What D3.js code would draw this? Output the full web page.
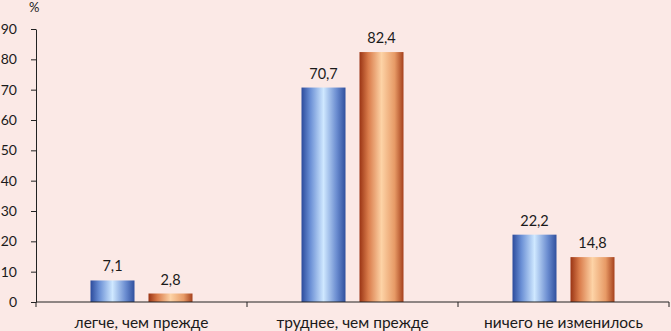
<!DOCTYPE html>
<html>
<head>
<meta charset="utf-8">
<script src="https://cdn.jsdelivr.net/npm/d3@7"></script>
<style>
  body { margin: 0; background: #fbe9e6; }
  svg { display: block; }
  text { font-family: Lato, "Open Sans", sans-serif; fill: #1a1a1a; }
</style>
</head>
<body>
<div id="chart"></div>
<script>
// chart data
var categories = ["легче, чем прежде", "труднее, чем прежде", "ничего не изменилось"];
var seriesNames = ["s1", "s2"];
var series1 = [7.1, 70.7, 22.2];
var series2 = [2.8, 82.4, 14.8];
var yTicks = [0, 10, 20, 30, 40, 50, 60, 70, 80, 90];

var W = 671, H = 331;
var margin = {left: 36, right: 2, top: 29, bottom: 29};

var svg = d3.select("#chart").append("svg")
  .attr("width", W).attr("height", H);

// cylinder-like gradients
var defs = svg.append("defs");
function addGrad(id, stops) {
  var g = defs.append("linearGradient").attr("id", id)
    .attr("x1", "0%").attr("x2", "100%").attr("y1", "0%").attr("y2", "0%");
  stops.forEach(function(s) {
    g.append("stop").attr("offset", s[0]).attr("stop-color", s[1]);
  });
}
addGrad("gBlue", [["0%", "#2c4b9c"], ["20%", "#6a8fd5"], ["50%", "#cfe8ff"], ["80%", "#6a8cd0"], ["100%", "#30509e"]]);
addGrad("gOrange", [["0%", "#9a3414"], ["20%", "#d97b4a"], ["50%", "#fdd3a6"], ["80%", "#e79a66"], ["100%", "#a5401c"]]);

var x0 = d3.scaleBand().domain(categories)
  .range([margin.left, W - margin.right]);
var y = d3.scaleLinear().domain([0, 90])
  .range([H - margin.bottom, margin.top]);

var barW = 44, gap = 14;
var data = categories.map(function(c, i) {
  return {cat: c, vals: [series1[i], series2[i]]};
});

var groups = svg.selectAll(".grp").data(data).enter().append("g")
  .attr("class", "grp")
  .attr("transform", function(d) { return "translate(" + (x0(d.cat) + x0.bandwidth() / 2) + ",0)"; });

groups.selectAll("rect").data(function(d) { return d.vals; }).enter()
  .append("rect")
  .attr("x", function(d, i) { return i == 0 ? -(barW + gap / 2) : gap / 2; })
  .attr("width", barW)
  .attr("y", function(d) { return y(d); })
  .attr("height", function(d) { return y(0) - y(d); })
  .attr("fill", function(d, i) { return i == 0 ? "url(#gBlue)" : "url(#gOrange)"; });

groups.selectAll(".lbl").data(function(d) { return d.vals; }).enter()
  .append("text")
  .attr("class", "lbl")
  .attr("x", function(d, i) { return i == 0 ? -(barW / 2 + gap / 2) : barW / 2 + gap / 2; })
  .attr("y", function(d) { return y(d) - 9; })
  .attr("text-anchor", "middle")
  .style("font-size", "14.5px")
  .text(function(d) { return d3.format(".1f")(d).replace(".", ","); });

// y axis
var yAxis = svg.append("g")
  .attr("transform", "translate(" + margin.left + ",0)")
  .call(d3.axisLeft(y).tickValues(yTicks).tickSize(5).tickSizeOuter(0));
yAxis.select(".domain").attr("stroke", "#222");
yAxis.selectAll(".tick line").attr("stroke", "#222");
yAxis.selectAll("text").style("font-size", "14px")
  .attr("x", -19).style("font-family", "Lato, sans-serif").attr("fill", "#1a1a1a");

// x axis
var xAxis = svg.append("g")
  .attr("transform", "translate(0," + y(0) + ")");
xAxis.append("line")
  .attr("x1", margin.left).attr("x2", W - margin.right)
  .attr("stroke", "#222");
xAxis.selectAll(".xt").data(categories.concat(["end"])).enter()
  .append("line")
  .attr("x1", function(d) { return d == "end" ? W - margin.right : x0(d); })
  .attr("x2", function(d) { return d == "end" ? W - margin.right : x0(d); })
  .attr("y1", 0).attr("y2", 5)
  .attr("stroke", "#222");
xAxis.selectAll(".cl").data(categories).enter()
  .append("text")
  .attr("x", function(d) { return x0(d) + x0.bandwidth() / 2; })
  .attr("y", 26)
  .attr("text-anchor", "middle")
  .style("font-size", "15.5px")
  .text(function(d) { return d; });

// units
svg.append("text").attr("x", 29).attr("y", 12)
  .attr("text-anchor", "start")
  .style("font-size", "13px")
  .text("%");
</script>
</body>
</html>
